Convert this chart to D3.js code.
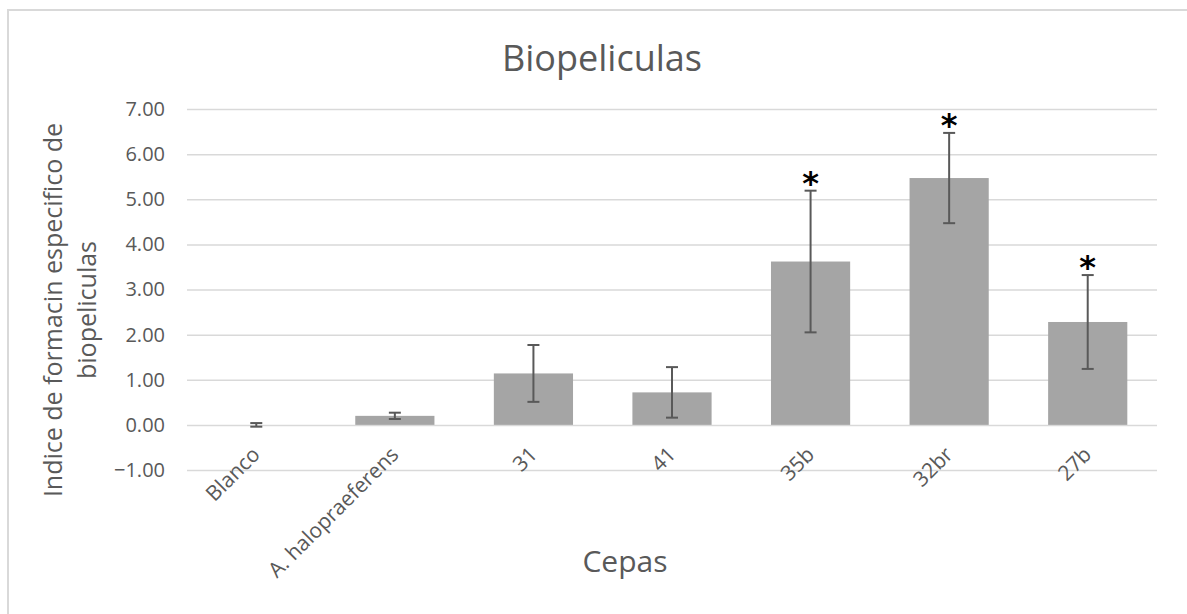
<!DOCTYPE html>
<html lang="es">
<head>
    <meta charset="utf-8" />
    <title>Biopeliculas</title>
    <script src="https://d3js.org/d3.v7.js"></script>
    <style>
        body, html {
            margin: 0;
            background: #ffffff;
            font-family: "Open Sans", "Noto Sans", Arial, sans-serif;
        }
        .tick text {
            fill: #595959;
        }
    </style>
</head>
<body>
    <div id="canvas"></div>
</body>
</html>
<script>
    // datos de la grafica
    let categories = ["Blanco", "A. halopraeferens", "31", "41", "35b", "32br", "27b"]
    let values = [0.00, 0.20, 1.14, 0.72, 3.62, 5.47, 2.28]
    let errors = [0.04, 0.07, 0.63, 0.56, 1.57, 1.00, 1.04]
    let significant = [false, false, false, false, true, true, true]
    let yTicks = [-1, 0, 1, 2, 3, 4, 5, 6, 7]

    let svg = d3.select("#canvas")
        .append("svg")
        .attr("width", 1187)
        .attr("height", 614)

    // marco del grafico
    svg.append("rect")
        .attr("x", 8).attr("y", 10)
        .attr("width", 1200).attr("height", 620)
        .attr("fill", "none")
        .attr("stroke", "#d9d9d9")
        .attr("stroke-width", 2)

    let xScale = d3.scaleBand()
        .domain(categories)
        .range([187, 1157])
        .paddingInner(0.4286)
        .paddingOuter(0.2143)

    let yScale = d3.scaleLinear()
        .domain([-1, 7])
        .range([470, 109])

    // lineas de cuadricula + etiquetas del eje y
    let yAxis = d3.axisLeft(yScale)
        .tickValues(yTicks)
        .tickSize(-(1157 - 187))
        .tickPadding(22)
        .tickFormat(d3.format(".2f"))

    let gy = svg.append("g")
        .attr("transform", "translate(187, 0)")
        .call(yAxis)
    gy.select(".domain").remove()
    gy.selectAll(".tick line")
        .attr("stroke", "#d9d9d9")
        .attr("stroke-width", 1.5)
    gy.selectAll(".tick text")
        .style("font-size", "20px")
        .style("font-family", "Open Sans")

    // barras
    svg.selectAll("rect.bar")
        .data(values)
        .enter()
        .append("rect")
        .attr("class", "bar")
        .attr("x", (d, i) => xScale(categories[i]))
        .attr("y", d => yScale(Math.max(d, 0)))
        .attr("width", xScale.bandwidth())
        .attr("height", d => Math.abs(yScale(d) - yScale(0)))
        .attr("fill", "#a5a5a5")

    // barras de error
    let cx = i => xScale(categories[i]) + xScale.bandwidth() / 2
    let errG = svg.append("g")
        .attr("stroke", "#595959")
        .attr("stroke-width", 2)
    values.forEach((d, i) => {
        let top = yScale(d + errors[i])
        let bot = yScale(d - errors[i])
        errG.append("line").attr("x1", cx(i)).attr("x2", cx(i)).attr("y1", top).attr("y2", bot)
        errG.append("line").attr("x1", cx(i) - 6).attr("x2", cx(i) + 6).attr("y1", top).attr("y2", top)
        errG.append("line").attr("x1", cx(i) - 6).attr("x2", cx(i) + 6).attr("y1", bot).attr("y2", bot)
    })

    // asteriscos de significancia
    values.forEach((d, i) => {
        if (!significant[i]) return
        svg.append("text")
            .attr("class", "star")
            .attr("x", cx(i))
            .attr("y", yScale(d + errors[i]) + 3)
            .attr("text-anchor", "middle")
            .style("font-family", "DejaVu Sans")
            .style("font-size", "32px")
            .style("font-weight", "bold")
            .style("fill", "#000")
            .text("*")
    })

    // etiquetas del eje x
    let xAxis = d3.axisBottom(xScale)
        .tickSize(0)
        .tickPadding(0)
    let gx = svg.append("g")
        .attr("transform", "translate(0, " + yScale(0) + ")")
        .call(xAxis)
    gx.select(".domain").remove()
    gx.selectAll(".tick text")
        .attr("text-anchor", "end")
        .attr("y", 0)
        .attr("dy", 0)
        .attr("transform", "translate(5, 31) rotate(-45)")
        .style("font-size", "21px")
        .style("font-family", "Open Sans")

    // titulos
    svg.append("text")
        .attr("x", 602).attr("y", 71)
        .attr("text-anchor", "middle")
        .style("font-size", "36px")
        .style("fill", "#595959")
        .text("Biopeliculas")

    svg.append("text")
        .attr("x", 625).attr("y", 572)
        .attr("text-anchor", "middle")
        .style("font-size", "30px")
        .style("fill", "#595959")
        .text("Cepas")

    let yTitle = svg.append("text")
        .attr("transform", "translate(0, 310) rotate(-90)")
        .attr("text-anchor", "middle")
        .style("font-size", "25px")
        .style("fill", "#595959")
    yTitle.append("tspan").attr("x", 0).attr("y", 62).text("Indice de formacin especifico de")
    yTitle.append("tspan").attr("x", 0).attr("y", 96).text("biopeliculas")
</script>
